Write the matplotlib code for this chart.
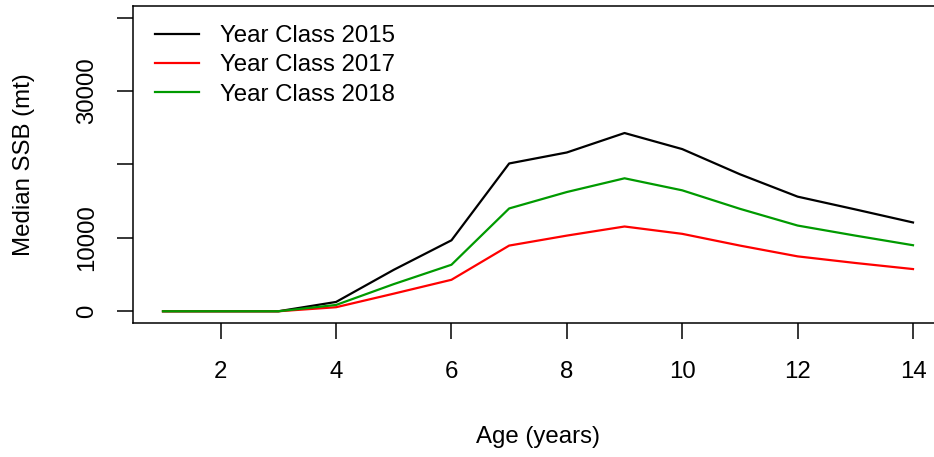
import matplotlib
matplotlib.use("Agg")
import matplotlib.pyplot as plt

plt.rcParams['font.family'] = ['Liberation Sans', 'DejaVu Sans']

age = [1, 2, 3, 4, 5, 6, 7, 8, 9, 10, 11, 12, 13, 14]
ssb_2015 = [0, 0, 0, 1270, 5650, 9670, 20140, 21640, 24290, 22100, 18670, 15620, 13880, 12100]
ssb_2017 = [0, 0, 0, 550, 2400, 4290, 8950, 10310, 11550, 10550, 8950, 7480, 6580, 5750]
ssb_2018 = [0, 0, 0, 860, 3700, 6340, 14010, 16250, 18120, 16480, 13960, 11680, 10310, 9000]

x_ticks = [2, 4, 6, 8, 10, 12, 14]
y_ticks = [0, 10000, 20000, 30000, 40000]
y_tick_labels = ['0', '10000', '', '30000', '']

fs = 17.3
fig = plt.figure(figsize=(9.34, 4.57), dpi=100)
ax = fig.add_axes([133 / 934, 1 - 323 / 457, 810 / 934, 317 / 457])

ax.plot(age, ssb_2015, color='black', lw=1.6, label='Year Class 2015')
ax.plot(age, ssb_2017, color='#ff0000', lw=1.6, label='Year Class 2017')
ax.plot(age, ssb_2018, color='#009a00', lw=1.6, label='Year Class 2018')

ax.set_xlim(0.48, 14.52)
ax.set_ylim(-1600, 41600)

ax.set_xticks(x_ticks)
ax.set_xticklabels([str(t) for t in x_ticks], fontsize=fs)
ax.set_yticks(y_ticks)
ax.set_yticklabels(y_tick_labels, fontsize=fs, rotation=90, va='center')
ax.tick_params(axis='both', length=11.5, width=1.1, color='black')
ax.tick_params(axis='x', pad=16)
ax.tick_params(axis='y', pad=13.5)

for s in ax.spines.values():
    s.set_linewidth(1.1)

fig.text(24 / 934, 1 - 165 / 457, 'Median SSB (mt)', rotation=90,
         ha='center', va='center', fontsize=fs)
fig.text(538 / 934, 1 - 437 / 457, 'Age (years)', ha='center', va='center',
         fontsize=fs)

ax.legend(loc='upper left', bbox_to_anchor=(0.0, 1.008), frameon=False,
          fontsize=fs, handlelength=1.85, handletextpad=0.85,
          labelspacing=0.3, borderaxespad=0.5)

fig.savefig('out.png', dpi=100)
